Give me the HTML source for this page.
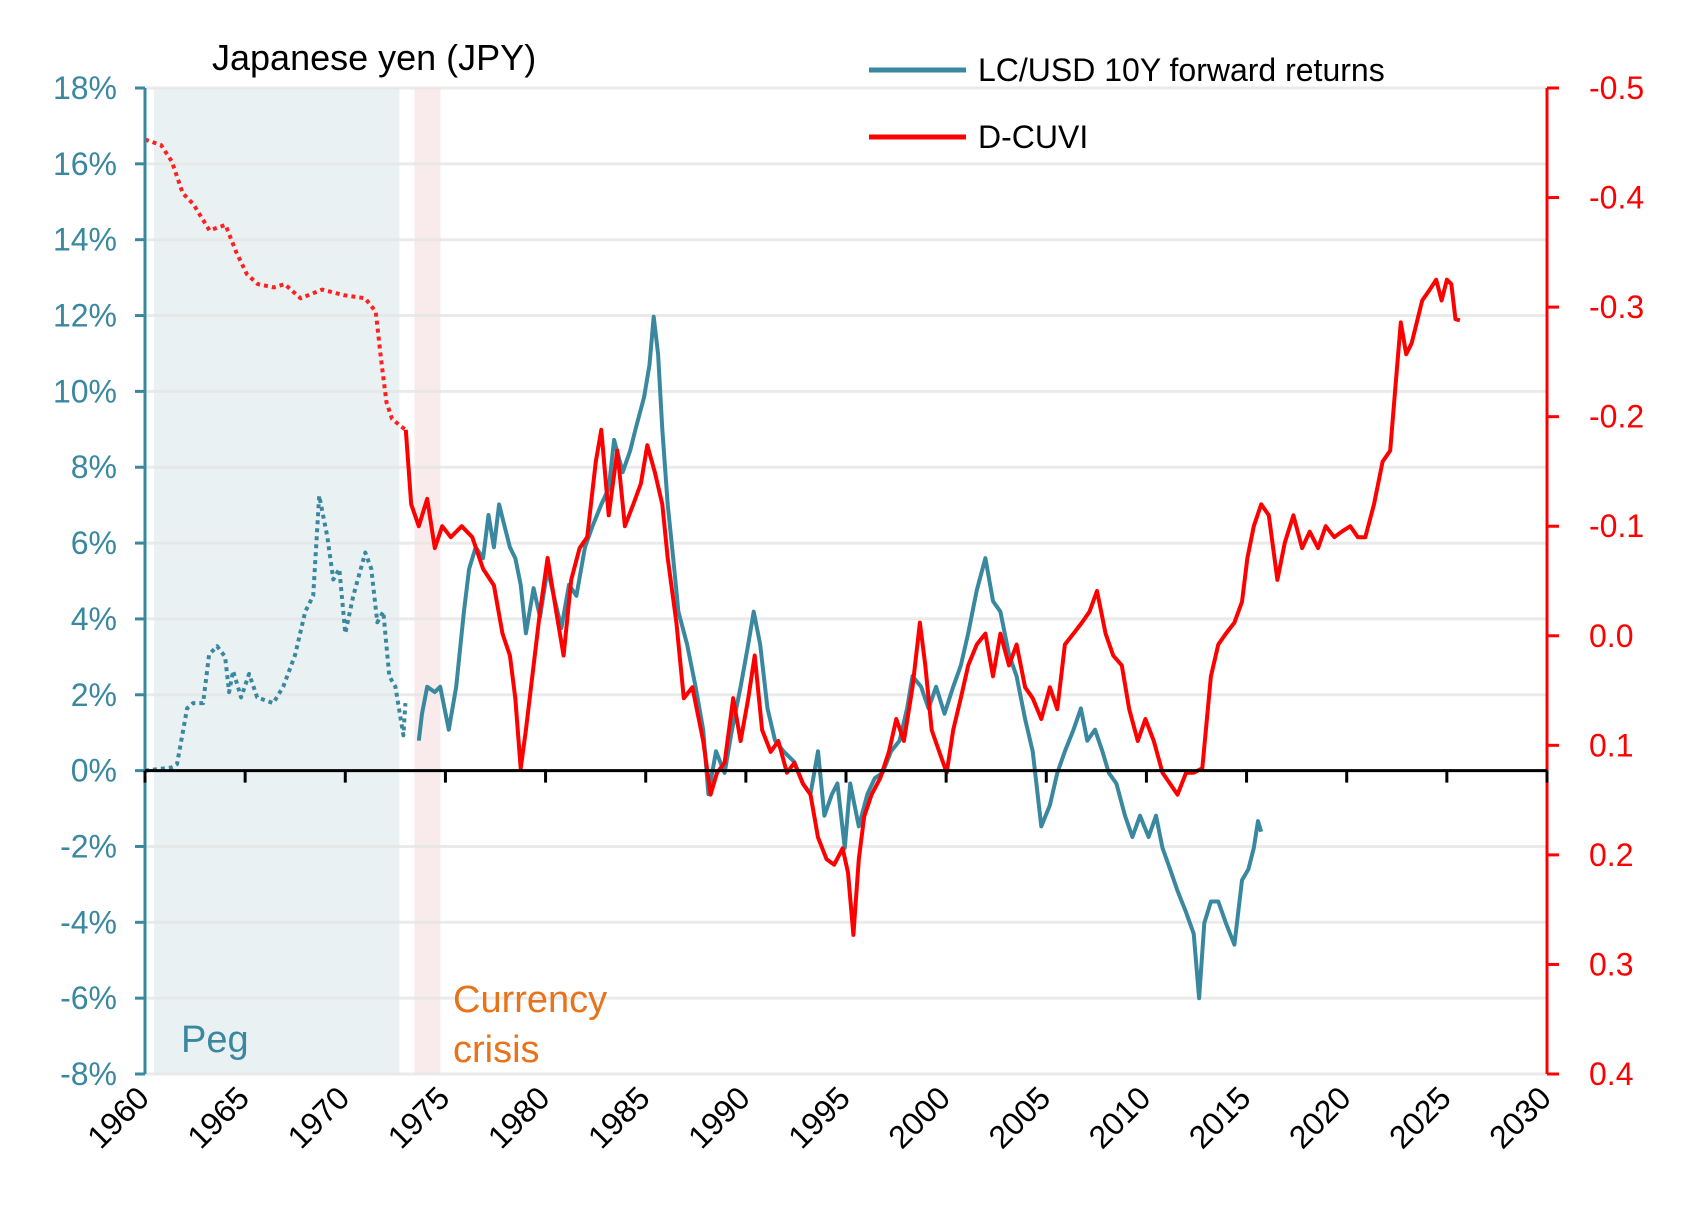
<!DOCTYPE html>
<html><head><meta charset="utf-8"><style>
body{margin:0;background:#fff;}
svg{display:block;font-family:"Liberation Sans Narrow","Liberation Sans",sans-serif;}
</style></head><body>
<svg id="chart" width="1682" height="1208" viewBox="0 0 1682 1208" xmlns="http://www.w3.org/2000/svg">
<g id="bg"></g><g id="grid"></g><g id="series"></g><g id="axes"></g>
<text x="212" y="70" font-size="36" fill="#000" font-family="Liberation Sans, sans-serif">Japanese yen (JPY)</text>
<g>
<line x1="869" y1="70" x2="966" y2="70" stroke="#3a87a0" stroke-width="5"/>
<text x="978" y="81" font-size="32" fill="#000">LC/USD 10Y forward returns</text>
<line x1="869" y1="137" x2="966" y2="137" stroke="#ff0000" stroke-width="5"/>
<text x="978" y="148" font-size="32" fill="#000">D-CUVI</text>
</g>
<text x="181" y="1052" font-size="38" fill="#3a87a0">Peg</text>
<text x="453" y="1012" font-size="38" fill="#e8731a">Currency</text>
<text x="453" y="1062" font-size="38" fill="#e8731a">crisis</text>
</svg>
<script>
const retDottedYears=[1960.0,1961.3,1961.6,1962.1,1962.4,1962.9,1963.2,1963.6,1964.0,1964.2,1964.4,1964.8,1965.2,1965.6,1966.4,1966.9,1967.5,1968.0,1968.4,1968.7,1969.1,1969.4,1969.7,1970.0,1970.4,1971.0,1971.3,1971.6,1971.9,1972.2,1972.5,1972.9,1973.0];
const retDottedVals=[0,0.08,0.17,1.64,1.78,1.78,3.06,3.28,3.0,2.07,2.63,1.93,2.55,1.93,1.78,2.21,3.06,4.19,4.61,7.25,6.17,5.04,5.32,3.62,4.61,5.75,5.32,3.91,4.19,2.49,2.21,0.93,1.78];
const retYears=[1973.67,1973.83,1974.09,1974.47,1974.74,1975.17,1975.54,1975.92,1976.18,1976.51,1976.88,1977.15,1977.42,1977.68,1977.95,1978.22,1978.49,1978.76,1979.02,1979.40,1979.72,1980.10,1980.47,1980.79,1981.17,1981.54,1981.97,1982.35,1982.78,1983.15,1983.42,1983.85,1984.22,1984.49,1984.92,1985.19,1985.40,1985.62,1985.83,1986.10,1986.37,1986.63,1987.06,1987.49,1987.87,1988.13,1988.51,1988.94,1989.31,1989.74,1990.12,1990.39,1990.71,1991.08,1991.46,1991.88,1992.42,1992.85,1993.23,1993.60,1993.92,1994.30,1994.57,1994.94,1995.21,1995.64,1996.07,1996.44,1996.82,1997.25,1997.67,1998.05,1998.32,1998.75,1999.12,1999.50,1999.92,2000.35,2000.73,2001.10,2001.53,2001.96,2002.34,2002.71,2003.14,2003.52,2003.94,2004.32,2004.75,2005.18,2005.55,2005.93,2006.36,2006.73,2007.05,2007.43,2007.80,2008.12,2008.50,2008.93,2009.30,2009.68,2010.11,2010.48,2010.80,2011.18,2011.55,2011.98,2012.36,2012.63,2012.89,2013.22,2013.59,2013.97,2014.39,2014.77,2015.09,2015.36,2015.57,2015.73];
const retVals=[0.79,1.50,2.21,2.07,2.21,1.08,2.21,4.19,5.32,5.89,5.60,6.74,5.89,7.02,6.45,5.89,5.60,4.90,3.62,4.81,4.05,5.32,4.47,3.76,4.90,4.61,5.89,6.45,7.02,7.44,8.72,7.87,8.43,9.00,9.85,10.70,11.97,10.98,9.00,7.02,5.60,4.19,3.34,2.21,1.08,-0.62,0.51,-0.06,1.08,2.21,3.34,4.19,3.34,1.64,0.79,0.51,0.23,-0.34,-0.62,0.51,-1.19,-0.62,-0.34,-2.04,-0.34,-1.47,-0.62,-0.20,-0.06,0.51,0.79,1.64,2.49,2.21,1.64,2.21,1.50,2.21,2.77,3.62,4.76,5.60,4.47,4.19,3.06,2.49,1.36,0.51,-1.47,-0.91,-0.06,0.51,1.08,1.64,0.79,1.08,0.51,-0.06,-0.34,-1.19,-1.75,-1.19,-1.75,-1.19,-2.04,-2.60,-3.17,-3.74,-4.30,-6.00,-4.02,-3.45,-3.45,-4.02,-4.59,-2.89,-2.60,-2.04,-1.33,-1.61];
const cuviDottedYears=[1960.0,1960.8,1961.34,1961.88,1962.41,1963.22,1964.02,1964.56,1965.09,1965.63,1966.43,1966.97,1967.77,1968.84,1969.91,1970.99,1971.52,1971.79,1972.06,1972.33,1972.86,1973.02];
const cuviDottedVals=[-0.453,-0.448,-0.433,-0.404,-0.394,-0.370,-0.375,-0.350,-0.330,-0.321,-0.318,-0.321,-0.308,-0.316,-0.311,-0.308,-0.296,-0.252,-0.213,-0.198,-0.190,-0.188];
const cuviYears=[1973.02,1973.29,1973.67,1974.09,1974.47,1974.84,1975.27,1975.81,1976.34,1976.88,1977.42,1977.85,1978.22,1978.49,1978.76,1979.02,1979.40,1979.72,1980.10,1980.53,1980.90,1981.28,1981.70,1982.08,1982.51,1982.78,1983.15,1983.58,1983.96,1984.38,1984.76,1985.08,1985.46,1985.83,1986.10,1986.53,1986.90,1987.33,1987.87,1988.24,1988.56,1988.94,1989.37,1989.74,1990.12,1990.44,1990.81,1991.24,1991.62,1992.05,1992.42,1992.85,1993.23,1993.60,1994.03,1994.41,1994.83,1995.10,1995.37,1995.64,1995.91,1996.28,1996.71,1997.14,1997.51,1997.89,1998.32,1998.69,1998.96,1999.28,1999.66,2000.03,2000.35,2000.73,2001.10,2001.53,2001.96,2002.34,2002.71,2003.14,2003.52,2003.94,2004.32,2004.75,2005.18,2005.55,2005.93,2006.36,2006.78,2007.16,2007.53,2007.96,2008.34,2008.77,2009.14,2009.57,2009.95,2010.37,2010.80,2011.18,2011.55,2011.98,2012.36,2012.79,2013.22,2013.59,2013.97,2014.39,2014.77,2015.04,2015.36,2015.73,2016.11,2016.54,2016.91,2017.34,2017.77,2018.15,2018.57,2018.95,2019.38,2019.75,2020.18,2020.56,2020.93,2021.36,2021.79,2022.17,2022.43,2022.70,2022.97,2023.24,2023.50,2023.77,2024.15,2024.47,2024.74,2025.00,2025.22,2025.43,2025.65];
const cuviVals=[-0.188,-0.120,-0.100,-0.125,-0.080,-0.100,-0.090,-0.100,-0.090,-0.061,-0.046,-0.002,0.018,0.057,0.121,0.086,0.027,-0.022,-0.071,-0.022,0.018,-0.051,-0.080,-0.090,-0.159,-0.188,-0.110,-0.169,-0.100,-0.120,-0.139,-0.174,-0.149,-0.120,-0.071,-0.012,0.057,0.047,0.096,0.145,0.125,0.116,0.057,0.096,0.057,0.018,0.086,0.106,0.096,0.125,0.116,0.135,0.145,0.184,0.204,0.209,0.194,0.216,0.273,0.204,0.165,0.145,0.130,0.106,0.076,0.096,0.047,-0.012,0.027,0.086,0.106,0.125,0.086,0.057,0.027,0.008,-0.002,0.037,-0.002,0.027,0.008,0.047,0.057,0.076,0.047,0.067,0.008,-0.002,-0.012,-0.022,-0.041,-0.002,0.018,0.027,0.067,0.096,0.076,0.096,0.125,0.135,0.145,0.125,0.125,0.121,0.037,0.008,-0.002,-0.012,-0.031,-0.071,-0.100,-0.120,-0.110,-0.051,-0.085,-0.110,-0.080,-0.095,-0.080,-0.100,-0.090,-0.095,-0.100,-0.090,-0.090,-0.120,-0.159,-0.169,-0.227,-0.286,-0.257,-0.267,-0.286,-0.306,-0.316,-0.325,-0.306,-0.325,-0.321,-0.289,-0.288];
const leftTicks=[-8,-6,-4,-2,0,2,4,6,8,10,12,14,16,18];
const rightTicks=[-0.5,-0.4,-0.3,-0.2,-0.1,0.0,0.1,0.2,0.3,0.4];
const rightTickLabels=["-0.5","-0.4","-0.3","-0.2","-0.1","0.0","0.1","0.2","0.3","0.4"];
const xTicks=[1960,1965,1970,1975,1980,1985,1990,1995,2000,2005,2010,2015,2020,2025,2030];

const X0=145,X1=1547,YT=88,YB=1074;
const xS=y=>X0+(y-1960)/70*(X1-X0);
const yL=p=>YB-(p+8)/26*(YB-YT);
const yR=v=>YT+(v+0.5)/0.9*(YB-YT);
const NS="http://www.w3.org/2000/svg";
function mk(parent,tag,attrs){const e=document.createElementNS(NS,tag);for(const k in attrs)e.setAttribute(k,attrs[k]);document.getElementById(parent).appendChild(e);return e;}

let r=mk('bg','rect',{x:xS(1960.45),y:YT,width:xS(1972.7)-xS(1960.45),height:YB-YT,fill:'#e9f1f3'});


r=mk('bg','rect',{x:xS(1973.45),y:YT,width:xS(1974.75)-xS(1973.45),height:YB-YT,fill:'#f9ebeb'});



leftTicks.forEach(t=>{
 const g=mk('grid','line',{x1:X0,x2:X1,y1:yL(t),y2:yL(t),stroke:'#e6e6e6','stroke-width':3,opacity:0.8});
 
 
 const tk=mk('axes','line',{x1:X0-10,x2:X0,y1:yL(t),y2:yL(t),stroke:'#3a87a0','stroke-width':3});
 
 
 const tx=mk('axes','text',{x:X0-28,y:yL(t)+11,'text-anchor':'end','font-size':32,fill:'#3a87a0'});
 tx.textContent=t+'%';
 
 
});
rightTicks.forEach((t,i)=>{
 const tk=mk('axes','line',{x1:X1,x2:X1+12,y1:yR(t),y2:yR(t),stroke:'#ff0000','stroke-width':3});
 
 
 const tx=mk('axes','text',{x:X1+42,y:yR(t)+11,'font-size':32,fill:'#ff0000'});
 tx.textContent=rightTickLabels[i];
 
 
});
let a=mk('axes','line',{x1:X0,x2:X0,y1:YT,y2:YB,stroke:'#3a87a0','stroke-width':3});


a=mk('axes','line',{x1:X1,x2:X1,y1:YT,y2:YB,stroke:'#ff0000','stroke-width':3});


a=mk('axes','line',{x1:X0,x2:X1,y1:yL(0),y2:yL(0),stroke:'#000','stroke-width':3});


xTicks.forEach(t=>{
 const tk=mk('axes','line',{x1:xS(t),x2:xS(t),y1:yL(0),y2:yL(0)+12,stroke:'#000','stroke-width':3});
 
 
 const px=xS(t)+6,py=1100;
 const tx=mk('axes','text',{x:px,y:py,'text-anchor':'end','font-size':32,fill:'#000',transform:`rotate(-45 ${px} ${py})`});
 tx.textContent=t;
 
 
});
function path(xs,vs,yf,color,dash,name){
 const d=xs.map((x,i)=>(i?'L':'M')+xS(x).toFixed(1)+' '+yf(vs[i]).toFixed(1)).join(' ');
 const attrs={d:d,fill:'none',stroke:color,'stroke-width':4,'stroke-linejoin':'round'};
 if(dash)attrs['stroke-dasharray']=dash;
 const p=mk('series','path',attrs);
 
 
}
path(retDottedYears,retDottedVals,yL,'#3a87a0','4 4','returns-line-peg');
path(retYears,retVals,yL,'#3a87a0',null,'returns-line');
path(cuviDottedYears,cuviDottedVals,yR,'#ff2020','4 4','dcuvi-line-peg');
path(cuviYears,cuviVals,yR,'#ff0000',null,'dcuvi-line');
</script>
</body></html>
